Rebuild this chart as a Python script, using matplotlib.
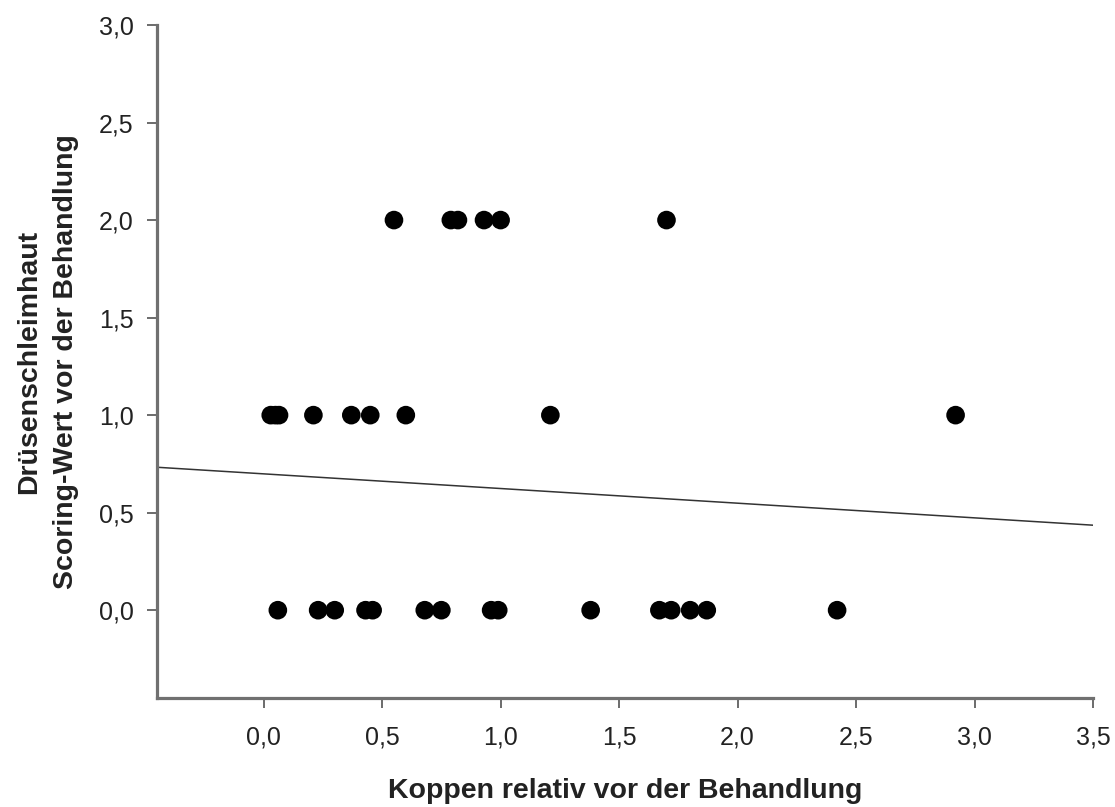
import numpy as np
import matplotlib
matplotlib.use("Agg")
from matplotlib import pyplot as plt
from matplotlib.ticker import FuncFormatter

# Koppen relativ (x) grouped by scoring value (y)
x_score2 = [0.55, 0.79, 0.82, 0.93, 1.00, 1.70]
x_score1 = [0.03, 0.05, 0.065, 0.21, 0.37, 0.45, 0.60, 1.21, 2.92]
x_score0 = [0.06, 0.23, 0.30, 0.43, 0.46, 0.68, 0.75, 0.96, 0.99, 1.38,
            1.67, 1.72, 1.80, 1.87, 2.42]

# regression line
intercept = 0.699
slope = -0.0752

x = np.array(x_score2 + x_score1 + x_score0)
y = np.array([2] * len(x_score2) + [1] * len(x_score1) + [0] * len(x_score0))

plt.rcParams['font.family'] = ['Liberation Sans', 'DejaVu Sans']

fig = plt.figure(figsize=(11.15, 8.07), dpi=100)
ax = fig.add_axes([0.1408, 0.1351, 0.9803 - 0.1408, 0.969 - 0.1351])

ax.scatter(x, y, s=180, color="black", edgecolors="none", zorder=3)

xl = np.array([-0.45, 3.5])
ax.plot(xl, intercept + slope * xl, color="#333333", lw=1.1, zorder=2)

ax.set_xlim(-0.45, 3.5)
ax.set_ylim(-0.45, 3.0)
ax.set_xticks(np.arange(0, 3.51, 0.5))
ax.set_yticks(np.arange(0, 3.01, 0.5))
fmt = FuncFormatter(lambda v, p: f"{v:.1f}".replace(".", ","))
ax.xaxis.set_major_formatter(fmt)
ax.yaxis.set_major_formatter(fmt)

for s in ["top", "right"]:
    ax.spines[s].set_visible(False)
for s in ["left", "bottom"]:
    ax.spines[s].set_color("#707070")
    ax.spines[s].set_linewidth(2.3)
ax.tick_params(direction="out", length=7, width=1.1, color="#444444",
               labelsize=18, labelcolor="#222222")
ax.tick_params(axis="y", pad=10)
ax.tick_params(axis="x", pad=13)

ax.set_xlabel("Koppen relativ vor der Behandlung", fontsize=20.5,
              fontweight="bold", color="#222222", labelpad=20)
ax.set_ylabel("Drüsenschleimhaut\nScoring-Wert vor der Behandlung", fontsize=20.5,
              fontweight="bold", color="#222222", labelpad=14, linespacing=1.55)

fig.savefig("out.png", dpi=100, facecolor="white")
